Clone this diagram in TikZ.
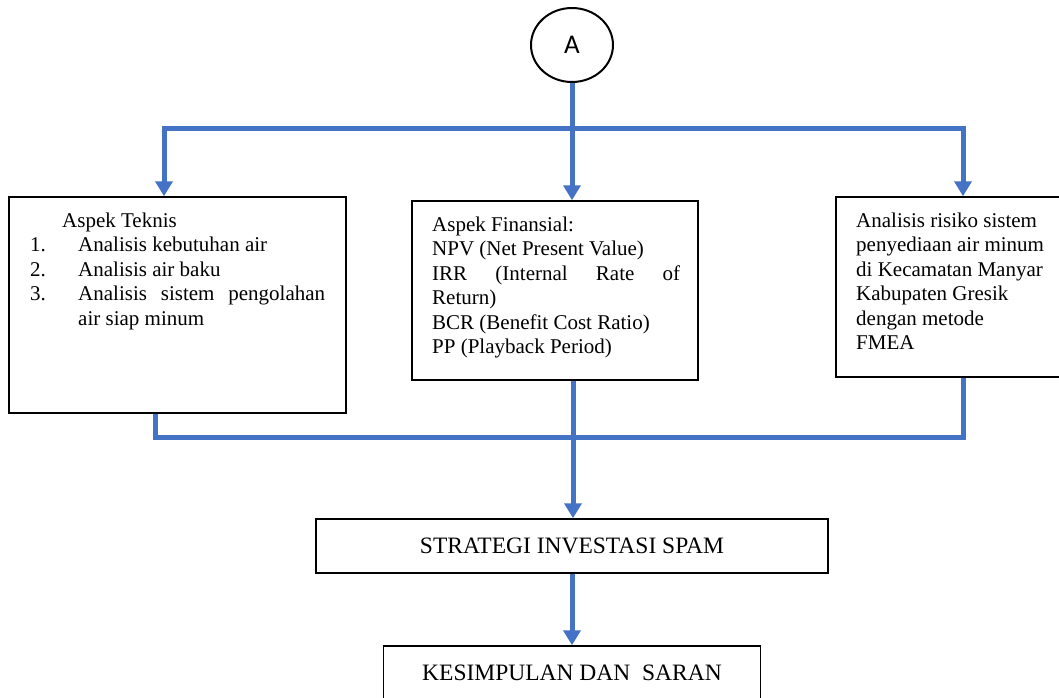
\documentclass[tikz,border=0pt]{standalone}
\usepackage{fontspec}
\setmainfont{Liberation Serif}
\newfontfamily\calfont{Carlito}
\usetikzlibrary{arrows.meta,shapes.geometric}
\definecolor{flowblue}{HTML}{4472C4}
\begin{document}
\begin{tikzpicture}[x=1pt,y=-1pt,>={Triangle[width=17pt,length=15pt]},line join=miter,
 kotak/.style={draw,line width=1.5pt,inner sep=0pt},
 alur/.style={flowblue,line width=5pt},
 isi/.style={anchor=north west,align=left,inner sep=0pt,font=\fontsize{21}{24.5}\selectfont},
 judul/.style={font=\fontsize{23.5}{28}\selectfont}]
\useasboundingbox (0,0) rectangle (1059,697);
\node[ellipse,draw,line width=2pt,minimum width=82pt,minimum height=74pt,font=\calfont\fontsize{27}{30}\selectfont] (A) at (572,45) {A};
\node[kotak,minimum width=337pt,minimum height=216pt] (teknis) at (177.5,305) {};
\node[kotak,minimum width=286pt,minimum height=179pt] (finansial) at (555,290.5) {};
\node[kotak,minimum width=226pt,minimum height=180pt] (risiko) at (949,287) {};
\node[kotak,judul,minimum width=512pt,minimum height=54pt] (strategi) at (572,546) {STRATEGI INVESTASI SPAM};
\node[kotak,judul,minimum width=377pt,minimum height=54pt] (simpulan) at (572,673) {KESIMPULAN DAN\ \ SARAN};
\node[isi] (teknisTeks) at (30,212.7) {\hspace*{32pt}Aspek Teknis\\
 \makebox[48pt][l]{1.}Analisis kebutuhan air\\
 \makebox[48pt][l]{2.}Analisis air baku\\
 \makebox[48pt][l]{3.}\makebox[247pt][s]{Analisis sistem pengolahan}\\
 \hspace*{48pt}air siap minum};
\node[isi] (finansialTeks) at (432,216.6) {Aspek Finansial:\\
 NPV (Net Present Value)\\
 \makebox[248pt][s]{IRR (Internal Rate of}\\
 Return)\\
 BCR (Benefit Cost Ratio)\\
 PP (Playback Period)};
\node[isi] (risikoTeks) at (856,212.4) {Analisis risiko sistem\\
 penyediaan air minum\\
 di Kecamatan Manyar\\
 Kabupaten Gresik\\
 dengan metode\\
 FMEA};
\coordinate (atasKiri) at (164,128);
\coordinate (atasKanan) at (963,128);
\coordinate (bawahKiri) at (155,437);
\coordinate (bawahTengah) at (573,437);
\coordinate (bawahKanan) at (963,437);
\draw[alur,line cap=rect] (atasKiri) -- (atasKanan);
\draw[alur,->] (A) -- (A |- finansial.north);
\draw[alur,->] (atasKiri) -- (atasKiri |- teknis.north);
\draw[alur,->] (atasKanan) -- (atasKanan |- risiko.north);
\draw[alur] (bawahKiri |- teknis.south) -- (bawahKiri) -- (bawahKanan) -- (bawahKanan |- risiko.south);
\draw[alur,->] (bawahTengah |- finansial.south) -- (bawahTengah |- strategi.north);
\draw[alur,->] (strategi) -- (simpulan);
\end{tikzpicture}
\end{document}
